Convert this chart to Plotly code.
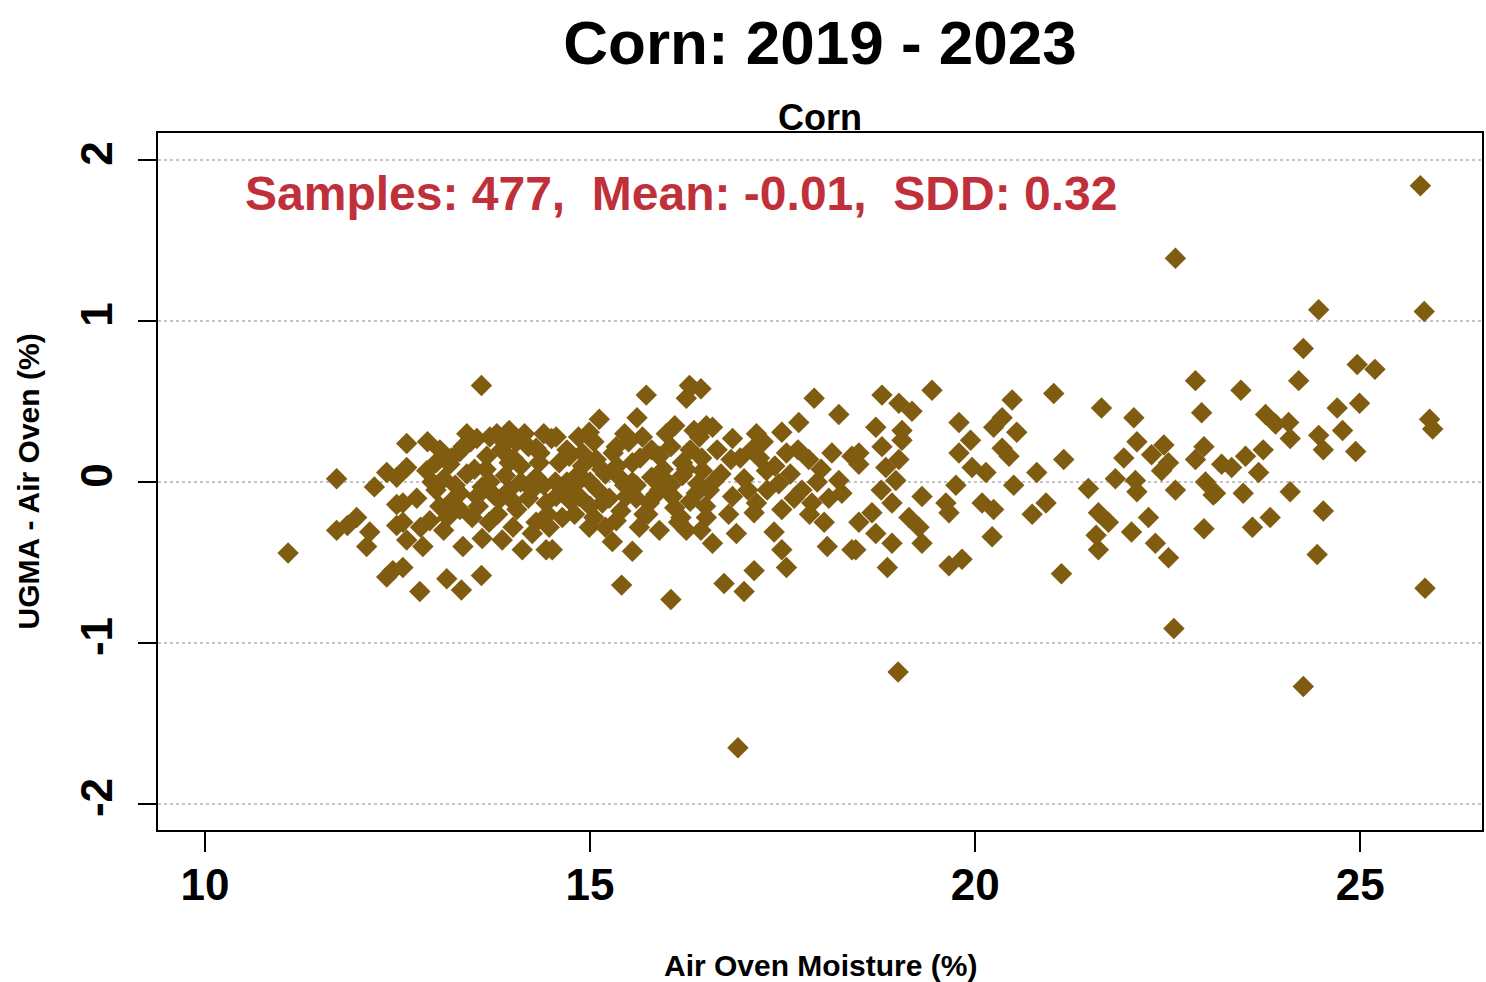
import plotly.graph_objects as go

POINT = "#7F5C10"
NOTE_RED = "#C0303A"
GRID = "#C4C4C4"
FONT = "Liberation Sans, Arial, sans-serif"

# Air oven moisture (%) and UGMA minus air oven (%)
air_oven = [
    11.08, 11.71, 11.71, 11.85, 11.97, 12.10, 12.14, 12.20, 12.36, 12.36,
    12.44, 12.49, 12.49, 12.49, 12.57, 12.57, 12.57, 12.62, 12.62, 12.62,
    12.89, 12.88, 12.79, 12.83, 12.92, 13.00,
    13.59, 13.53, 13.79, 14.15, 14.30, 14.50, 13.31, 13.66, 13.18, 13.95,
    14.34, 13.31, 13.53, 13.82, 14.05, 14.43, 13.31, 13.47, 13.69, 13.35,
    13.86, 14.12, 14.43, 14.47, 13.14, 13.59, 13.33, 13.70,
    13.10, 13.40, 13.70, 13.90, 14.10, 14.30, 14.55, 13.20, 13.50, 13.85,
    14.00, 14.20, 13.20, 13.60, 13.95, 14.20, 14.40, 13.80, 14.30, 13.05,
    13.45, 14.05, 13.10, 13.60, 14.25, 14.00,
    15.73, 16.29, 16.25, 15.12, 15.61, 14.99, 14.56, 15.34, 15.68, 15.99,
    16.42, 14.73, 15.08, 15.55, 15.90, 16.20, 16.46, 14.56, 14.86, 15.16,
    15.47, 15.77, 16.07, 16.38, 14.64, 14.99, 15.34, 15.64, 15.90, 16.18,
    16.44, 15.29, 15.55, 14.51, 15.41, 16.05,
    14.70, 14.85, 15.00, 15.20, 15.40, 15.60, 15.80, 16.00, 16.20, 16.40,
    14.70, 14.90, 15.30, 15.50, 15.80, 16.05, 16.30, 14.75, 15.00, 15.10,
    15.40, 15.60, 15.90, 16.10, 16.30, 14.80, 15.20, 16.31, 16.59, 15.05,
    15.75, 16.25,
    16.44, 17.91, 18.23, 16.51, 16.85, 17.16, 17.71, 17.49, 16.83, 17.10,
    17.29, 17.55, 17.84, 18.14, 18.40, 16.55, 16.85, 17.16, 17.45, 17.75,
    17.49, 17.88, 18.23, 18.27, 16.51, 16.59, 16.90, 17.13, 17.39, 17.49,
    18.04, 18.08, 18.40, 17.55, 17.13, 16.74, 17.00, 16.92,
    16.70, 17.00, 17.30, 17.60, 17.95, 16.95, 17.65, 18.00, 16.65, 17.20,
    18.79, 19.44, 19.01, 19.18, 18.71, 19.05, 19.79, 19.05, 18.79, 19.94,
    18.49, 19.79, 18.49, 18.84, 19.01, 19.96, 20.14, 18.78, 18.97, 19.75,
    18.92, 19.31, 19.62, 20.09, 18.49, 18.66, 19.14, 19.27, 19.66, 18.71,
    18.92, 19.31, 18.45, 19.66, 19.83, 18.86, 19.00,
    22.60, 22.86, 21.02, 20.48, 21.64, 22.94, 22.06, 20.35, 20.24, 20.54,
    22.10, 22.45, 22.97, 20.35, 20.44, 22.29, 21.93, 22.51, 22.86, 21.15,
    20.80, 22.42, 20.50, 21.47, 21.82, 22.08, 22.10, 22.60, 22.99, 23.09,
    20.24, 20.92, 20.74, 21.60, 21.73, 22.25, 20.22, 21.57, 21.60, 22.03,
    22.34, 22.51, 22.97, 21.12, 22.58,
    25.78, 24.46, 25.83, 24.26, 24.96, 25.19, 24.20, 23.45, 24.70, 24.99,
    23.77, 23.90, 24.07, 24.09, 24.46, 24.52, 24.77, 24.94, 25.90, 25.94,
    23.20, 23.33, 23.51, 23.74, 23.68, 23.12, 23.48, 24.09, 23.60, 23.83,
    24.52, 24.44, 25.84, 24.26,
    # overlapping samples in the solid core of the cloud
    13.00, 13.25, 13.35, 13.55, 13.65, 13.75, 13.90, 14.00, 14.10, 14.25,
    14.35, 14.45, 14.60, 14.65, 14.80, 14.90, 15.05, 15.15, 15.25, 15.35,
    15.45, 15.55, 15.65, 15.70, 15.85, 15.95, 16.05, 16.15, 16.25, 16.35,
    16.45, 16.50, 16.10, 15.45, 14.85, 14.40, 13.95, 13.40, 12.95, 13.05,
    13.15, 12.75, 12.80, 16.60, 16.80, 17.05, 17.25, 17.40, 17.70, 17.85,
    18.10,
]
ugma_diff = [
    -0.44, 0.02, -0.30, -0.27, -0.22, -0.40, -0.31, -0.03, 0.06, -0.59,
    -0.55, 0.03, -0.14, -0.27, -0.13, -0.25, -0.53, 0.24, 0.09, -0.36,
    0.25, 0.07, -0.68, -0.40, -0.24, -0.05,
    0.60, 0.27, 0.30, 0.30, 0.21, 0.27, 0.19, 0.16, 0.11, 0.12,
    0.12, -0.07, -0.09, -0.11, -0.17, -0.13, -0.17, -0.22, -0.25, -0.40,
    -0.36, -0.42, -0.42, -0.28, -0.60, -0.58, -0.67, 0.28,
    0.02, 0.05, 0.00, 0.04, 0.00, 0.03, 0.00, 0.15, 0.08, 0.20,
    0.15, 0.22, -0.12, -0.03, -0.05, -0.10, -0.02, -0.20, -0.25, 0.20,
    0.25, 0.25, -0.30, -0.35, -0.32, -0.28,
    0.54, 0.60, 0.52, 0.39, 0.40, 0.31, 0.28, 0.22, 0.28, 0.30,
    0.28, 0.16, 0.14, 0.12, 0.16, 0.12, 0.07, -0.09, -0.09, -0.13,
    -0.09, -0.13, -0.09, -0.07, -0.22, -0.28, -0.24, -0.28, -0.30, -0.22,
    -0.30, -0.37, -0.43, -0.42, -0.64, -0.73,
    0.00, 0.05, 0.00, 0.05, 0.02, -0.02, 0.03, 0.00, 0.04, -0.01,
    0.20, 0.10, 0.18, 0.25, 0.20, 0.22, 0.20, -0.12, -0.15, -0.05,
    -0.18, -0.10, -0.05, -0.16, -0.12, -0.20, -0.28, 0.59, 0.34, 0.25,
    -0.20, -0.30,
    0.58, 0.52, 0.42, 0.35, 0.27, 0.30, 0.37, 0.31, 0.14, 0.20,
    0.07, 0.18, 0.14, 0.18, 0.16, -0.05, -0.09, -0.13, -0.01, -0.05,
    -0.17, -0.13, 0.01, -0.07, -0.22, -0.38, -0.32, -0.19, -0.31, -0.42,
    -0.25, -0.40, -0.42, -0.53, -0.55, -0.63, -0.68, -1.65,
    0.05, 0.02, -0.05, 0.05, 0.00, 0.15, -0.10, 0.08, 0.20, 0.15,
    0.54, 0.57, 0.49, 0.44, 0.34, 0.32, 0.37, 0.26, 0.22, 0.26,
    0.18, 0.18, 0.11, 0.09, 0.14, 0.09, 0.06, -0.05, 0.01, -0.02,
    -0.13, -0.09, -0.13, -0.13, -0.25, -0.19, -0.22, -0.28, -0.19, -0.32,
    -0.38, -0.38, -0.42, -0.52, -0.48, -0.53, -1.18,
    1.39, 0.63, 0.55, 0.51, 0.46, 0.43, 0.40, 0.40, 0.34, 0.31,
    0.25, 0.23, 0.22, 0.21, 0.16, 0.17, 0.15, 0.12, 0.14, 0.14,
    0.06, 0.07, -0.02, -0.04, 0.02, 0.01, -0.06, -0.05, 0.00, -0.08,
    -0.17, -0.13, -0.20, -0.19, -0.25, -0.22, -0.34, -0.33, -0.42, -0.31,
    -0.38, -0.47, -0.29, -0.57, -0.91,
    1.84, 1.07, 1.06, 0.83, 0.73, 0.70, 0.63, 0.57, 0.46, 0.49,
    0.42, 0.36, 0.37, 0.27, 0.29, 0.20, 0.32, 0.19, 0.39, 0.33,
    0.11, 0.09, 0.16, 0.20, 0.06, -0.07, -0.07, -0.06, -0.28, -0.22,
    -0.18, -0.45, -0.66, -1.27,
    # overlapping samples in the solid core of the cloud
    0.12, -0.02, 0.22, -0.15, 0.08, -0.08, 0.24, -0.12, 0.10, -0.05,
    0.18, -0.20, 0.12, -0.05, -0.02, 0.18, -0.22, 0.08, -0.10, 0.10,
    -0.02, 0.00, 0.15, -0.20, -0.08, 0.08, -0.02, -0.25, 0.08, 0.32,
    0.15, -0.15, 0.35, 0.30, 0.28, 0.30, 0.32, 0.30, 0.00, -0.15,
    -0.22, -0.10, -0.28, 0.00, -0.20, -0.05, 0.25, 0.10, 0.20, -0.20,
    -0.10,
]

x_ticks = [10, 15, 20, 25]
y_ticks = [-2, -1, 0, 1, 2]
y_tick_text = ["-2", "-1", "0", "1", "2"]
summary = "Samples: 477,  Mean: -0.01,  SDD: 0.32"

fig = go.Figure(
    go.Scatter(
        x=air_oven,
        y=ugma_diff,
        mode="markers",
        marker={"symbol": "diamond", "size": 16.5, "color": POINT, "line": {"width": 0}},
        hovertemplate="%{x:.2f}, %{y:.2f}<extra></extra>",
    )
)

fig.update_layout(
    width=1486,
    height=982,
    margin={"l": 158, "r": 2, "t": 133, "b": 152},
    paper_bgcolor="white",
    plot_bgcolor="white",
    showlegend=False,
    font={"family": FONT, "color": "black"},
    title={
        "text": "Corn: 2019 - 2023",
        "x": 0.5,
        "xref": "paper",
        "xanchor": "center",
        "y": 1 - 42 / 982,
        "yanchor": "middle",
        "font": {"size": 62, "weight": "bold", "color": "black"},
    },
)

fig.update_xaxes(
    range=[9.391, 26.58],
    tickvals=x_ticks,
    ticks="outside",
    ticklen=20,
    tickwidth=1.5,
    tickcolor="black",
    ticklabelstandoff=-5,
    tickfont={"size": 44, "weight": "bold"},
    showgrid=False,
    zeroline=False,
    showline=True,
    linecolor="black",
    linewidth=2,
    mirror=True,
)
fig.update_yaxes(
    range=[-2.161, 2.168],
    tickvals=y_ticks,
    ticktext=y_tick_text,
    ticks="outside",
    ticklen=18,
    tickwidth=1.5,
    tickcolor="black",
    tickangle=-90,
    ticklabelstandoff=8,
    tickfont={"size": 44, "weight": "bold"},
    showgrid=True,
    gridcolor=GRID,
    griddash="dot",
    gridwidth=1.5,
    zeroline=False,
    showline=True,
    linecolor="black",
    linewidth=2,
    mirror=True,
)

fig.add_annotation(
    text="Corn", xref="paper", yref="paper", x=0.5, y=1, yshift=16,
    xanchor="center", yanchor="middle", showarrow=False,
    font={"size": 36, "weight": "bold", "color": "black"},
)
fig.add_annotation(
    text=summary, xref="x", yref="y", x=10.49, y=1.795,
    xanchor="left", yanchor="middle", showarrow=False,
    font={"size": 48, "weight": "bold", "color": NOTE_RED},
)
fig.add_annotation(
    text="Air Oven Moisture (%)", xref="paper", yref="paper", x=0.5, y=0, yshift=-135,
    xanchor="center", yanchor="middle", showarrow=False,
    font={"size": 30, "weight": "bold", "color": "black"},
)
fig.add_annotation(
    text="UGMA - Air Oven (%)", xref="paper", yref="paper", x=0, xshift=-130, y=0.5,
    xanchor="center", yanchor="middle", textangle=-90, showarrow=False,
    font={"size": 30, "weight": "bold", "color": "black"},
)

fig.write_html(
    "out.html",
    config={"displayModeBar": False},
    post_script="document.body.style.margin='0';",
)
